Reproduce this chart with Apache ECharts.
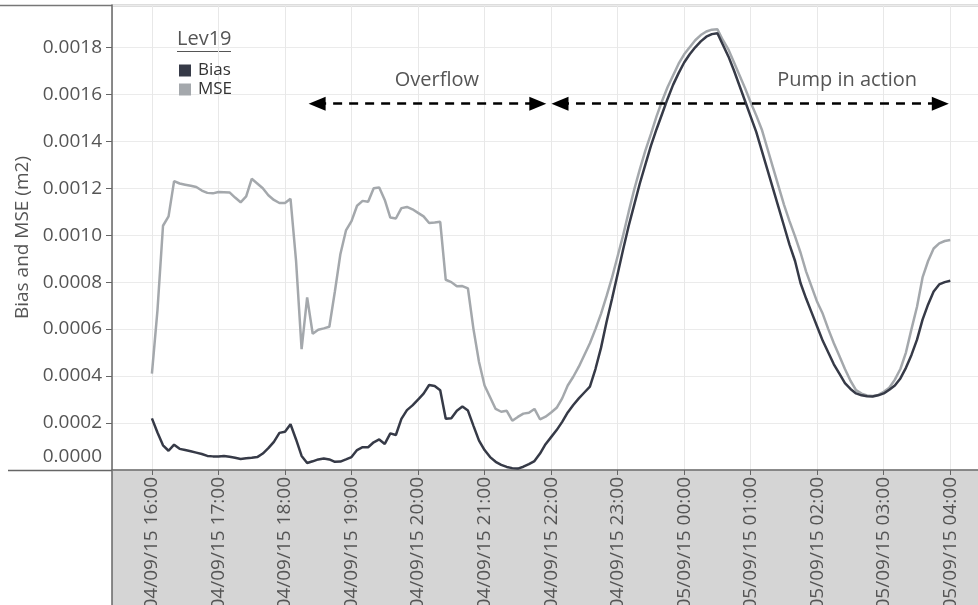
<!DOCTYPE html>
<html>
<head>
<meta charset="utf-8">
<script src="https://cdn.jsdelivr.net/npm/echarts@6/dist/echarts.min.js"></script>
<style>
  html, body { margin: 0; padding: 0; background: #fff; }
  #chart { width: 978px; height: 605px; }
</style>
</head>
<body>
<div id="chart"></div>
<script>
// Samples every 5 minutes from 04/09/15 16:00 to 05/09/15 04:00
const legendTitle = 'Lev19';
const seriesNames = ['Bias', 'MSE'];
const firstSample = [2015, 8, 4, 16, 0];
const sampleMinutes = 5;

const bias = [
  0.00022, 0.00016, 0.000105, 0.000082, 0.000108, 0.00009, 0.000085, 0.00008, 0.000074, 0.000068, 0.00006, 0.000058,
  0.000057, 0.00006, 0.000056, 0.000052, 0.000047, 0.00005, 0.000052, 0.000055, 0.00007, 0.000093, 0.00012, 0.000158,
  0.000163, 0.000195, 0.00013, 0.00006, 0.00003, 0.000037, 0.000045, 0.000049, 0.000045, 0.000035, 0.000036, 0.000045,
  0.000055, 0.000085, 0.000097, 0.000097, 0.000118, 0.00013, 0.000111, 0.000156, 0.000149, 0.000218, 0.000255, 0.000275,
  0.0003, 0.000325, 0.000362, 0.000358, 0.00034, 0.000218, 0.00022, 0.000252, 0.00027, 0.000253, 0.000188, 0.000125,
  0.000085, 0.000055, 0.000035, 0.000022, 0.000013, 0.000008, 0.000006, 0.000014, 0.000025, 0.000038, 0.00007, 0.00011,
  0.00014, 0.00017, 0.000205, 0.000245, 0.000277, 0.000305, 0.00033, 0.000355, 0.00043, 0.00052, 0.00063, 0.00073,
  0.000835, 0.00094, 0.00104, 0.00113, 0.00122, 0.0013, 0.00138, 0.00145, 0.001515, 0.00158, 0.00164, 0.00169,
  0.001735, 0.00177, 0.0018, 0.001825, 0.001845, 0.001856, 0.00186, 0.00181, 0.00176, 0.0017, 0.001635, 0.00157,
  0.001505, 0.00144, 0.00136, 0.00128, 0.0012, 0.00112, 0.00104, 0.00096, 0.00089, 0.000795, 0.00073, 0.00067,
  0.00061, 0.00055, 0.0005, 0.00045, 0.00041, 0.00037, 0.000345, 0.000326, 0.000318, 0.000314, 0.000313, 0.000318,
  0.000326, 0.000342, 0.00036, 0.00039, 0.000435, 0.00049, 0.000555, 0.00064, 0.000705, 0.00076, 0.00079, 0.0008,
  0.000806
];

const mse = [
  0.00041, 0.00068, 0.00104, 0.00108, 0.00123, 0.00122, 0.001215, 0.00121, 0.001205, 0.00119, 0.00118, 0.001178,
  0.001184, 0.001183, 0.001182, 0.00116, 0.00114, 0.001165, 0.00124, 0.00122, 0.0012, 0.00117, 0.00115, 0.001137,
  0.001137, 0.001155, 0.00089, 0.000515, 0.000735, 0.00058, 0.000597, 0.000603, 0.00061, 0.00076, 0.00092, 0.00102,
  0.00106, 0.001125, 0.001146, 0.001142, 0.0012, 0.001203, 0.00115, 0.001075, 0.001071, 0.001115, 0.00112, 0.00111,
  0.001095, 0.00108, 0.001052, 0.001054, 0.001057, 0.00081, 0.0008, 0.000782, 0.000783, 0.000773, 0.0006, 0.00046,
  0.00036, 0.00031, 0.00026, 0.000248, 0.000252, 0.00021, 0.000226, 0.00024, 0.000244, 0.00026, 0.000216, 0.000227,
  0.000245, 0.000265, 0.000305, 0.00036, 0.000397, 0.00044, 0.00049, 0.00054, 0.0006, 0.000665, 0.00074, 0.00082,
  0.00091, 0.001, 0.0011, 0.001195, 0.00128, 0.00136, 0.00143, 0.001505, 0.00157, 0.00163, 0.00168, 0.00173,
  0.00177, 0.0018, 0.00183, 0.001852, 0.001867, 0.001875, 0.001877, 0.00183, 0.00179, 0.001735, 0.00168, 0.001625,
  0.001565, 0.00151, 0.00145, 0.00137, 0.00129, 0.00121, 0.00113, 0.00106, 0.000995, 0.000925, 0.000845, 0.00078,
  0.000715, 0.000665, 0.0006, 0.00054, 0.000485, 0.00043, 0.00038, 0.00034, 0.000325, 0.000317, 0.000315, 0.00032,
  0.000333, 0.00035, 0.000385, 0.00043, 0.0005, 0.0006, 0.000695, 0.00082, 0.00089, 0.000943, 0.000965, 0.000975,
  0.000979
];

// Period annotations: arrow start, arrow end and label position for each period
const periodNames = ['Overflow', 'Pump in action'];
const periodStarts = [[2015, 8, 4, 18, 29], [2015, 8, 4, 22, 8]];
const periodEnds = [[2015, 8, 4, 21, 48], [2015, 8, 5, 3, 51]];
const periodLabelTimes = [[2015, 8, 4, 20, 17], [2015, 8, 5, 2, 27]];
const arrowLevel = 0.00156;
const periodLabelLevel = 0.00166;

const axisRange = [[2015, 8, 4, 15, 24], [2015, 8, 5, 4, 25]];
const yMax = 0.00198;
const yStep = 0.0002;

const toTime = a => new Date(a[0], a[1], a[2], a[3], a[4]).getTime();
const t0 = toTime(firstSample);
const stamp = i => t0 + i * sampleMinutes * 60000;
const pad = n => String(n).padStart(2, '0');
const fmtTime = v => {
  const d = new Date(v);
  return pad(d.getDate()) + '/' + pad(d.getMonth() + 1) + '/' + String(d.getFullYear()).slice(2) +
    ' ' + pad(d.getHours()) + ':' + pad(d.getMinutes());
};

const FONT = '"Open Sans", "Noto Sans", sans-serif';
const TXT = '#555555';
const BIAS_COLOR = '#363a47';
const MSE_COLOR = '#a4a8ac';

const chart = echarts.init(document.getElementById('chart'), null, { renderer: 'canvas' });

chart.setOption({
  animation: false,
  backgroundColor: '#ffffff',
  textStyle: { fontFamily: FONT },
  grid: { left: 112, right: 0, top: 5, bottom: 135, containLabel: false, outerBoundsMode: 'none' },
  legend: {
    data: seriesNames,
    orient: 'vertical',
    left: 179,
    top: 62,
    padding: 0,
    itemWidth: 12,
    itemHeight: 12,
    itemGap: 2,
    icon: 'rect',
    selectedMode: false,
    textStyle: { fontFamily: FONT, fontSize: 17, color: '#333', padding: [0, 0, 0, 2] }
  },
  xAxis: {
    type: 'time',
    min: toTime(axisRange[0]),
    max: toTime(axisRange[1]),
    minInterval: 3600000,
    maxInterval: 3600000,
    axisLine: { show: true, lineStyle: { color: '#666', width: 1.5 } },
    axisTick: { show: true, length: 5, lineStyle: { color: '#666', width: 1 } },
    axisLabel: {
      rotate: 90,
      margin: 7,
      fontFamily: FONT,
      fontSize: 19,
      color: TXT,
      showMinLabel: false,
      showMaxLabel: false,
      hideOverlap: false,
      formatter: v => fmtTime(v)
    },
    splitLine: { show: true, lineStyle: { color: '#e8e8e8', width: 1 } }
  },
  yAxis: {
    type: 'value',
    min: 0,
    max: yMax,
    interval: yStep,
    name: 'Bias and MSE (m2)',
    nameLocation: 'middle',
    nameGap: 77,
    nameRotate: 90,
    nameTextStyle: { fontFamily: FONT, fontSize: 19, color: TXT },
    axisLine: { show: true, lineStyle: { color: '#666', width: 1.5 } },
    axisTick: { show: true, length: 6, lineStyle: { color: '#666' } },
    axisLabel: {
      margin: 10,
      fontFamily: FONT,
      fontSize: 19,
      color: TXT,
      showMaxLabel: false,
      formatter: v => (v === 0 ? '{z|0.0000}' : v.toFixed(4)),
      rich: { z: { fontFamily: FONT, fontSize: 19, color: TXT, padding: [0, 0, 26, 0] } }
    },
    splitLine: { show: true, lineStyle: { color: '#ebebeb', width: 1 } }
  },
  graphic: [
    { type: 'rect', z: -1, shape: { x: 112, y: 471, width: 866, height: 134 }, style: { fill: '#d5d5d5' } },
    { type: 'line', shape: { x1: 112, y1: 470, x2: 112, y2: 605 }, style: { stroke: '#666', lineWidth: 1.5 } },
    { type: 'line', shape: { x1: 8, y1: 470.5, x2: 112, y2: 470.5 }, style: { stroke: '#666', lineWidth: 1.5 } },
    { type: 'line', shape: { x1: 0, y1: 5.5, x2: 978, y2: 5.5 }, style: { stroke: '#777', lineWidth: 1.5 } },
    {
      type: 'text', left: 177, top: 29,
      style: { text: legendTitle, fontFamily: FONT, fontSize: 20, fill: TXT }
    },
    { type: 'line', shape: { x1: 177, y1: 51.5, x2: 231, y2: 51.5 }, style: { stroke: TXT, lineWidth: 1 } }
  ],
  series: [
    {
      name: 'MSE',
      type: 'line',
      data: mse.map((v, i) => [stamp(i), v]),
      symbol: 'none',
      lineStyle: { color: MSE_COLOR, width: 2.5 },
      itemStyle: { color: MSE_COLOR }
    },
    {
      name: 'Bias',
      type: 'line',
      data: bias.map((v, i) => [stamp(i), v]),
      symbol: 'none',
      lineStyle: { color: BIAS_COLOR, width: 2.5 },
      itemStyle: { color: BIAS_COLOR },
      markLine: {
        silent: true,
        z: 10,
        symbol: ['triangle', 'triangle'],
        symbolSize: [14, 17],
        label: { show: false },
        lineStyle: { color: '#000', width: 2.5, type: [9, 7] },
        itemStyle: { color: '#000' },
        data: periodNames.map((n, i) => [
          { coord: [toTime(periodStarts[i]), arrowLevel] },
          { coord: [toTime(periodEnds[i]), arrowLevel] }
        ])
      },
      markPoint: {
        silent: true,
        symbol: 'rect',
        symbolSize: 1,
        itemStyle: { color: 'rgba(0,0,0,0)' },
        label: { show: true, position: 'inside', formatter: '{b}', fontFamily: FONT, fontSize: 20, color: TXT },
        data: periodNames.map((n, i) => ({ name: n, coord: [toTime(periodLabelTimes[i]), periodLabelLevel] }))
      }
    }
  ]
});
</script>
</body>
</html>
